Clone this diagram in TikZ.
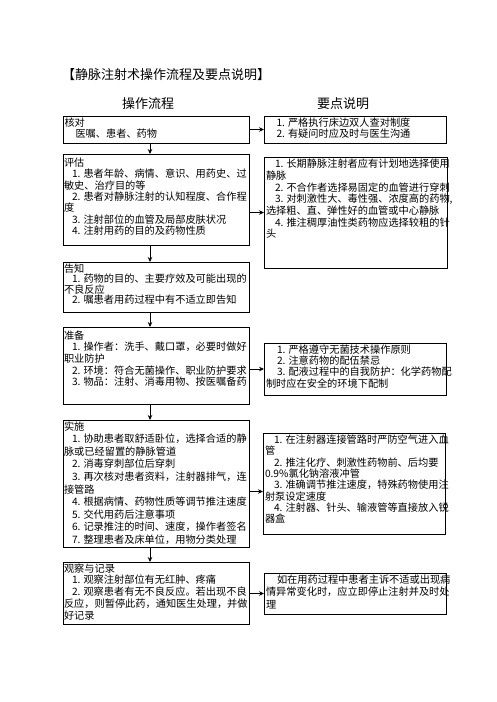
\documentclass[tikz,border=0pt]{standalone}
\usepackage{fontspec}
\setmainfont{Noto Sans CJK SC}
\usetikzlibrary{arrows.meta,calc}
\tikzset{
  bx/.style={draw=black, line width=0.9pt, rectangle, inner sep=0pt, outer sep=0pt},
  txt/.style={inner sep=0pt, outer sep=0pt, align=left, anchor=north west, text=black},
  arr/.style={draw=black, line width=0.7pt, -{Stealth[length=5pt,width=4.5pt]}},
  head/.style={font=\fontsize{13}{15}\selectfont, inner sep=0pt}
}
\newcommand\mkbox[5]{\node[bx, anchor=north west, minimum width={(#4-#2)*1pt}, minimum height={(#5-#3)*1pt}] (#1) at (#2pt,-#3pt) {};}
\newcommand\ind[1]{\hspace*{#1pt}}
\begin{document}
\begin{tikzpicture}
\useasboundingbox (0,0) rectangle (496pt,-702pt);
\node[head, anchor=west] (title) at (62pt,-75pt) {【静脉注射术操作流程及要点说明】};
\node[head] (hl) at (148pt,-104pt) {操作流程};
\node[head] (hr) at (343pt,-104pt) {要点说明};

% boxes
\mkbox{L1}{63}{116}{249}{143}
\mkbox{R1}{264}{116}{446}{143}
\mkbox{L2}{63}{154}{249}{245}
\mkbox{R2}{264}{157}{447}{268}
\mkbox{L3}{63}{262}{249}{312}
\mkbox{L4}{63}{327}{249}{404}
\mkbox{R4}{264}{343}{446}{395}
\mkbox{L5}{63}{420}{249}{547}
\mkbox{R5}{263}{433}{445}{534}
\mkbox{L6}{63}{562}{249}{624}
\mkbox{R6}{264}{573}{446}{614}

% texts
\node[txt, font=\fontsize{10.2}{11}\selectfont] (L1t) at ([xshift=1.5pt,yshift=-2pt]L1.north west)
 {核对\\\ind{11}医嘱、患者、药物};
\node[txt, font=\fontsize{10.2}{11}\selectfont] (R1t) at ([xshift=1.5pt,yshift=-2pt]R1.north west)
 {\ind{11}1. 严格执行床边双人查对制度\\\ind{11}2. 有疑问时应及时与医生沟通};
\node[txt, font=\fontsize{10.2}{11.3}\selectfont] (L2t) at ([xshift=1pt,yshift=-4pt]L2.north west)
 {评估\\\ind{8}1. 患者年龄、病情、意识、用药史、过\\敏史、治疗目的等\\\ind{8}2. 患者对静脉注射的认知程度、合作程\\度\\\ind{8}3. 注射部位的血管及局部皮肤状况\\\ind{8}4. 注射用药的目的及药物性质};
\node[txt, font=\fontsize{10.2}{11.7}\selectfont] (R2t) at ([xshift=2pt,yshift=-2pt]R2.north west)
 {\ind{9}1. 长期静脉注射者应有计划地选择使用\\静脉\\\ind{9}2. 不合作者选择易固定的血管进行穿刺\\\ind{9}3. 对刺激性大、毒性强、浓度高的药物,\\选择粗、直、弹性好的血管或中心静脉\\\ind{9}4. 推注稠厚油性类药物应选择较粗的针\\头};
\node[txt, font=\fontsize{10.2}{9.5}\selectfont] (L3t) at ([xshift=1pt,yshift=-1.5pt]L3.north west)
 {告知\\\ind{8}1. 药物的目的、主要疗效及可能出现的\\不良反应\\\ind{8}2. 嘱患者用药过程中有不适立即告知};
\node[txt, font=\fontsize{10.2}{11.7}\selectfont] (L4t) at ([xshift=1pt,yshift=-3.5pt]L4.north west)
 {准备\\\ind{8}1. 操作者：洗手、戴口罩，必要时做好\\职业防护\\\ind{8}2. 环境：符合无菌操作、职业防护要求\\\ind{8}3. 物品：注射、消毒用物、按医嘱备药};
\node[txt, font=\fontsize{10.2}{11.3}\selectfont] (R4t) at ([xshift=2pt,yshift=-1.5pt]R4.north west)
 {\ind{11}1. 严格遵守无菌技术操作原则\\\ind{11}2. 注意药物的配伍禁忌\\\ind{11}3. 配液过程中的自我防护：化学药物配\\制时应在安全的环境下配制};
\node[txt, font=\fontsize{10.2}{12.6}\selectfont] (L5t) at ([xshift=1pt,yshift=-1.5pt]L5.north west)
 {实施\\\ind{8}1. 协助患者取舒适卧位，选择合适的静\\脉或已经留置的静脉管道\\\ind{8}2. 消毒穿刺部位后穿刺\\\ind{8}3. 再次核对患者资料，注射器排气，连\\接管路\\\ind{8}4. 根据病情、药物性质等调节推注速度\\\ind{8}5. 交代用药后注意事项\\\ind{8}6. 记录推注的时间、速度，操作者签名\\\ind{8}7. 整理患者及床单位，用物分类处理};
\node[txt, font=\fontsize{10.2}{11.3}\selectfont] (R5t) at ([xshift=2pt,yshift=-2pt]R5.north west)
 {\ind{9}1. 在注射器连接管路时严防空气进入血\\管\\\ind{9}2. 推注化疗、刺激性药物前、后均要\\0.9\%氯化钠溶液冲管\\\ind{9}3. 准确调节推注速度，特殊药物使用注\\射泵设定速度\\\ind{9}4. 注射器、针头、输液管等直接放入锐\\器盒};
\node[txt, font=\fontsize{10.2}{11.8}\selectfont] (L6t) at ([xshift=1pt,yshift=-1.5pt]L6.north west)
 {观察与记录\\\ind{8}1. 观察注射部位有无红肿、疼痛\\\ind{8}2. 观察患者有无不良反应。若出现不良\\反应，则暂停此药，通知医生处理，并做\\好记录};
\node[txt, font=\fontsize{10.2}{12.5}\selectfont] (R6t) at ([xshift=2pt,yshift=-1.5pt]R6.north west)
 {\ind{11}如在用药过程中患者主诉不适或出现病\\情异常变化时，应立即停止注射并及时处\\理};

% vertical arrows
\draw[arr] ([xshift=-6pt]L1.south) -- ([xshift=-6pt]L2.north);
\draw[arr] ([xshift=-6pt]L2.south) -- ([xshift=-6pt]L3.north);
\draw[arr] ([xshift=-6pt]L3.south) -- ([xshift=-6pt]L4.north);
\draw[arr] ([xshift=-6pt]L4.south) -- ([xshift=-6pt]L5.north);
\draw[arr] ([xshift=-6pt]L5.south) -- ([xshift=-6pt]L6.north);

% horizontal arrows
\coordinate (R5in) at ([yshift=-8pt]R5.west);
\draw[arr] (L1.east |- R1.west) -- (R1.west);
\draw[arr] (L2.east |- R2.west) -- (R2.west);
\draw[arr] (L4.east |- R4.west) -- (R4.west);
\draw[arr] (L5.east |- R5in) -- (R5in);
\draw[arr] (L6.east |- R6.west) -- (R6.west);
\end{tikzpicture}
\end{document}
